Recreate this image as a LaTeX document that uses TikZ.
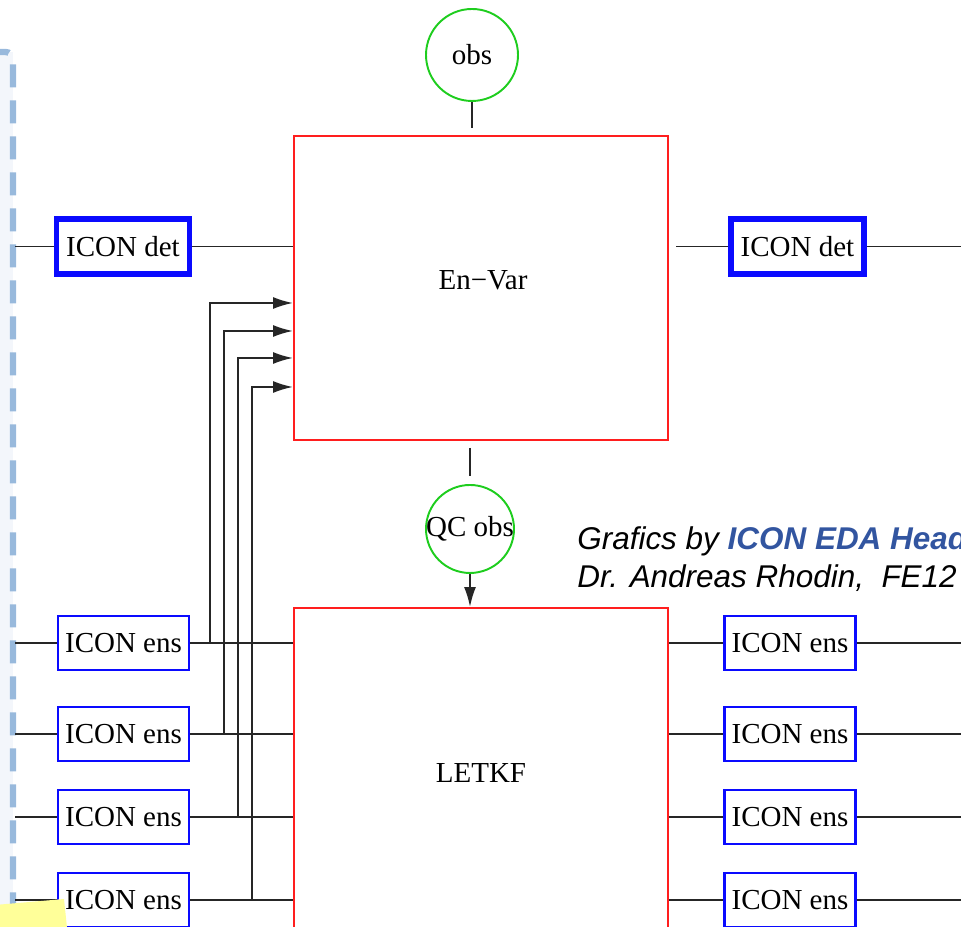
\documentclass[tikz,border=0pt]{standalone}
\usepackage{fontspec}
\setmainfont{Liberation Serif}
\newfontfamily\creditfont{Liberation Sans}
\usetikzlibrary{positioning, arrows.meta, calc}

\definecolor{boxred}{RGB}{255,30,30}
\definecolor{obsgreen}{RGB}{30,205,30}
\definecolor{iconblue}{RGB}{10,10,255}
\definecolor{frameblue}{RGB}{152,185,220}
\definecolor{framefill}{RGB}{243,246,251}
\definecolor{edablue}{RGB}{50,85,160}
\definecolor{noteyellow}{RGB}{255,255,153}

\tikzset{
    wire/.style={line width=1.1pt, black!85},
    arr/.style={wire, -{Latex[length=4mm, width=2.4mm]}},
    scheme/.style={draw=boxred, line width=1.1pt, minimum width=7.48cm, inner sep=0pt},
    obsnode/.style={circle, draw=obsgreen, line width=1.1pt, inner sep=0pt},
    detbox/.style={draw=iconblue, line width=3.4pt, fill=white, minimum width=2.66cm, minimum height=1.10cm, inner sep=0pt},
    ensbox/.style={draw=iconblue, line width=1.2pt, fill=white, minimum width=2.62cm, minimum height=1.08cm, inner sep=0pt},
    credit/.style={font=\creditfont\itshape\fontsize{17.9}{21}\selectfont, inner sep=0pt, anchor=base west}
}

\begin{document}
\begin{tikzpicture}[font=\fontsize{16.5}{19}\selectfont]
        \useasboundingbox (0,0) rectangle (19.22,18.54);

        % Frame on the left
        \fill[framefill] (-1,-1) rectangle (0.26,17.50);
        \draw[frameblue, line width=3.6pt, dash pattern=on 0.46cm off 0.26cm, rounded corners=0.15cm]
            (-1,17.50) -- (0.26,17.50) -- (0.26,-1);

        % Main Boxes
        \node[scheme, minimum height=6.08cm] (envar) at (9.62,12.78) {};
        \node (envarlabel) at (9.66,12.94) {En−Var};
        \node[scheme, minimum height=6.62cm] (letkf) at (9.62,3.07) {LETKF};

        % Observations
        \node[obsnode, minimum size=1.84cm] (obs) at (9.44,17.44) {obs};
        \coordinate (obsstub) at (9.44,15.98);
        \draw[wire] (obs.south) -- (obsstub);

        \node[obsnode, minimum size=1.76cm] (qcobs) at (9.40,7.96) {\makebox[0pt]{QC obs}};
        \coordinate (qcstubtop) at (9.40,9.58);
        \coordinate (qcstubend) at (9.40,9.02);
        \draw[wire] (qcstubtop) -- (qcstubend);
        \draw[arr] (qcobs.south) -- (qcobs.south |- letkf.north);

        % Deterministic runs
        \node[detbox] (detin) at (2.46,13.61) {ICON det};
        \node[detbox] (detout) at (15.95,13.61) {ICON det};
        \coordinate (detsrc) at (0.30,13.61);
        \coordinate (detgap) at (13.52,13.61);
        \coordinate (detsink) at (19.6,13.61);
        \draw[wire] (detsrc) -- (detin) -- (envar.west |- detin);
        \draw[wire] (detgap) -- (detout) -- (detsink);

        % Ensemble runs
        \foreach \i/\y in {1/5.68, 2/3.86, 3/2.20, 4/0.54}{
            \node[ensbox] (ens\i) at (2.47,\y) {ICON ens};
            \node[ensbox] (ensout\i) at (15.80,\y) {ICON ens};
            \coordinate (src\i) at (0.30,\y);
            \coordinate (sink\i) at (19.6,\y);
            \draw[wire] (src\i) -- (ens\i) -- (letkf.west |- ens\i);
            \draw[wire] (letkf.east |- ensout\i) -- (ensout\i) -- (sink\i);
        }

        % Ensemble into En-Var
        \foreach \i/\bx/\ay in {1/4.20/12.48, 2/4.48/11.92, 3/4.76/11.38, 4/5.04/10.80}{
            \coordinate (bus\i) at (\bx,\ay);
            \draw[arr] (ens\i -| bus\i) -- (bus\i) -- (envar.west |- bus\i);
        }

        % Credits
        \node[credit] (credit1) at (11.54,7.54) {Grafics by \textcolor{edablue}{\bfseries ICON EDA Head}};
        \node[credit] (credit2) at (11.54,6.78) {Dr. Andreas Rhodin,\ \ FE12};

        % Note in the corner
        \fill[noteyellow] (-0.1,0.44) -- (1.28,0.56) -- (1.36,-0.2) -- (-0.1,-0.2) -- cycle;

\end{tikzpicture}
\end{document}
